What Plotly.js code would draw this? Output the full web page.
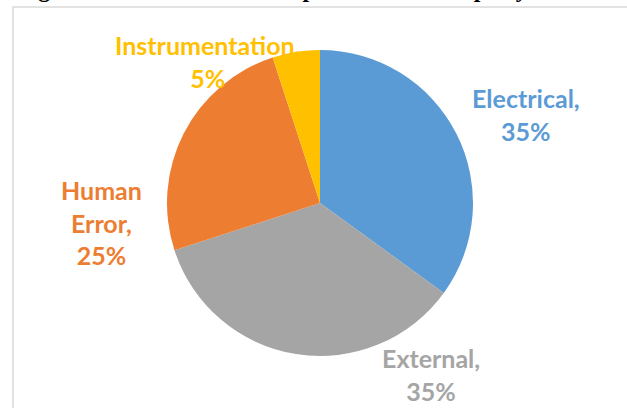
<!DOCTYPE html>
<html><head><meta charset="utf-8">
<script src="https://cdn.plot.ly/plotly-3.0.1.min.js"></script>
<style>html,body{margin:0;padding:0;background:#fff;}#chart{width:627px;height:408px;}</style>
</head><body><div id="chart"></div>
<script>
const categories = ["Electrical", "External", "Human Error", "Instrumentation"];
const values = [35, 35, 25, 5];
const labelLines = [["Electrical,"], ["External,"], ["Human", "Error,"], ["Instrumentation,"]];
const colors = ["#5B9BD5", "#A5A5A5", "#ED7D31", "#FFC000"];
const titleText = "Figure 1. Distribution of Unplanned Unit Trips by Cause";

const W = 627, H = 408;
const cx = 320, cy = 203, r = 153;
const px = x => x / W, py = y => 1 - y / H;

// label anchor positions (pixels)
const labelPos = [[526, 114], [431, 374], [101, 223], [207, 61]];

const annotations = categories.map((c, i) => ({
  xref: 'paper', yref: 'paper', x: px(labelPos[i][0]), y: py(labelPos[i][1]),
  xanchor: 'center', yanchor: 'middle', showarrow: false, align: 'center',
  text: labelLines[i].join('<br>') + '<br>' + values[i] + '%',
  font: {family: 'Lato, sans-serif', size: 25, color: colors[i], weight: 'bold'}
}));
annotations.push({
  xref: 'paper', yref: 'paper', x: px(15), y: py(4.5), xanchor: 'left', yanchor: 'bottom',
  showarrow: false, text: '<b>' + titleText + '</b>',
  font: {family: 'Liberation Serif, serif', size: 24, color: '#000'}
});

const data = [{
  type: 'pie', values: values, labels: categories, sort: false, direction: 'clockwise',
  rotation: 0, textinfo: 'none', hoverinfo: 'label+percent',
  marker: {colors: colors, line: {color: '#fff', width: 0}},
  domain: {x: [px(cx - r), px(cx + r)], y: [py(cy + r), py(cy - r)]},
  showlegend: false
}];

const layout = {
  width: W, height: H, margin: {l: 0, r: 0, t: 0, b: 0},
  paper_bgcolor: '#fff', showlegend: false,
  annotations: annotations,
  shapes: [{type: 'rect', xref: 'paper', yref: 'paper', x0: px(13), x1: px(640), y0: py(420), y1: py(7),
    line: {color: '#D9D9D9', width: 1.5}, fillcolor: 'rgba(0,0,0,0)', layer: 'below'}]
};
Plotly.newPlot('chart', data, layout, {displayModeBar: false, staticPlot: true});
</script></body></html>
